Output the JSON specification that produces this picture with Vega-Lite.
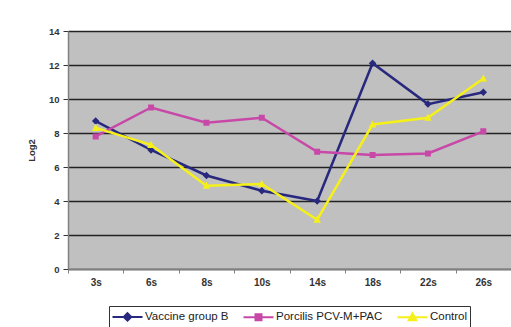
{
  "$schema": "https://vega.github.io/schema/vega-lite/v6.json",
  "width": 443,
  "height": 238,
  "autosize": {"type": "none"},
  "padding": {"left": 68, "top": 31, "right": 0, "bottom": 58},
  "background": "white",
  "config": {
    "font": "Liberation Sans",
    "view": {"fill": "#c0c0c0", "stroke": null}
  },
  "data": {
    "values": [
      {"t": "3s", "s": "Vaccine group B", "v": 8.7},
      {"t": "6s", "s": "Vaccine group B", "v": 7.0},
      {"t": "8s", "s": "Vaccine group B", "v": 5.5},
      {"t": "10s", "s": "Vaccine group B", "v": 4.6},
      {"t": "14s", "s": "Vaccine group B", "v": 4.0},
      {"t": "18s", "s": "Vaccine group B", "v": 12.1},
      {"t": "22s", "s": "Vaccine group B", "v": 9.7},
      {"t": "26s", "s": "Vaccine group B", "v": 10.4},
      {"t": "3s", "s": "Porcilis PCV-M+PAC", "v": 7.8},
      {"t": "6s", "s": "Porcilis PCV-M+PAC", "v": 9.5},
      {"t": "8s", "s": "Porcilis PCV-M+PAC", "v": 8.6},
      {"t": "10s", "s": "Porcilis PCV-M+PAC", "v": 8.9},
      {"t": "14s", "s": "Porcilis PCV-M+PAC", "v": 6.9},
      {"t": "18s", "s": "Porcilis PCV-M+PAC", "v": 6.7},
      {"t": "22s", "s": "Porcilis PCV-M+PAC", "v": 6.8},
      {"t": "26s", "s": "Porcilis PCV-M+PAC", "v": 8.1},
      {"t": "3s", "s": "Control", "v": 8.3},
      {"t": "6s", "s": "Control", "v": 7.3},
      {"t": "8s", "s": "Control", "v": 4.9},
      {"t": "10s", "s": "Control", "v": 5.0},
      {"t": "14s", "s": "Control", "v": 2.9},
      {"t": "18s", "s": "Control", "v": 8.5},
      {"t": "22s", "s": "Control", "v": 8.9},
      {"t": "26s", "s": "Control", "v": 11.2}
    ]
  },
  "encoding": {
    "x": {
      "field": "t", "type": "nominal", "sort": null, "bandPosition": 0.5,
      "scale": {"type": "band", "paddingInner": 0, "paddingOuter": 0},
      "axis": {
        "title": null, "labelAngle": 0, "tickBand": "extent",
        "domainColor": "#808080", "domainWidth": 1.5, "tickColor": "#808080",
        "tickSize": 4, "labelFontSize": 10, "labelFontWeight": "bold",
        "labelColor": "#333333", "labelPadding": 4, "grid": false
      }
    },
    "y": {
      "field": "v", "type": "quantitative",
      "scale": {"domain": [0, 14], "nice": false},
      "axis": {
        "title": "Log2", "values": [0, 2, 4, 6, 8, 10, 12, 14],
        "titleFontSize": 9.5, "titleFontWeight": "bold", "titleColor": "#333333",
        "titlePadding": 12,
        "labelFontSize": 9.5, "labelFontWeight": "bold", "labelColor": "#333333",
        "domainColor": "#808080", "domainWidth": 1.5, "tickColor": "#333333",
        "tickSize": 5, "labelPadding": 4,
        "grid": true, "gridColor": "#222222", "gridWidth": 1.5
      }
    },
    "color": {
      "field": "s", "type": "nominal",
      "scale": {
        "domain": ["Vaccine group B", "Porcilis PCV-M+PAC", "Control"],
        "range": ["#28287e", "#c848a8", "#f5f01a"]
      },
      "legend": {
        "title": null, "orient": "none", "direction": "horizontal",
        "legendX": 41, "legendY": 275,
        "symbolSize": 225, "symbolStrokeWidth": 2, "symbolOffset": 8,
        "labelFontSize": 11.5, "labelColor": "#222222", "labelFont": "Liberation Sans",
        "strokeColor": "#333333", "padding": 2, "offset": 16,
        "columnPadding": 10, "labelOffset": 9, "fillColor": "white",
        "encode": {
          "symbols": {
            "update": {
              "stroke": {"signal": "scale('color', datum.value)"},
              "strokeWidth": {"value": 2}
            }
          }
        }
      }
    }
  },
  "layer": [
    {
      "mark": {"type": "line", "strokeWidth": 2.5}
    },
    {
      "mark": {"type": "point", "filled": true, "size": 225, "opacity": 1, "strokeWidth": 0},
      "encoding": {
        "shape": {
          "field": "s", "type": "nominal",
          "scale": {
            "domain": ["Vaccine group B", "Porcilis PCV-M+PAC", "Control"],
            "range": [
              "M-2,0H2M0,-0.5L0.5,0L0,0.5L-0.5,0Z",
              "M-2,0H2M-0.4,-0.4H0.4V0.4H-0.4Z",
              "M-2,0H2M0,-0.55L0.5,0.4H-0.5Z"
            ]
          }
        }
      }
    }
  ]
}
